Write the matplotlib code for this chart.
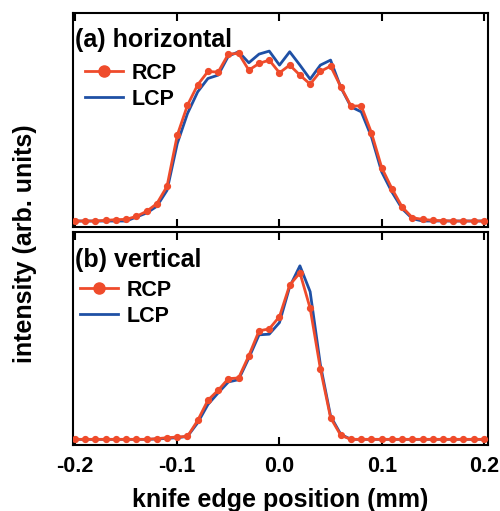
import numpy as np
import matplotlib
matplotlib.use("Agg")
import matplotlib.pyplot as plt
from matplotlib.lines import Line2D

plt.rcParams['font.family'] = ['Liberation Sans', 'DejaVu Sans']
plt.rcParams['font.weight'] = 'bold'

# knife edge positions (mm)
x = np.round(np.arange(-0.20, 0.2001, 0.01), 2)

# (a) horizontal
rcp_h = [0, 0, 0, 0.004, 0.008, 0.010, 0.028, 0.058, 0.104, 0.208, 0.514,
         0.694, 0.816, 0.896, 0.892, 1.000, 1.004, 0.904, 0.944, 0.964, 0.888,
         0.934, 0.874, 0.820, 0.896, 0.928, 0.804, 0.688, 0.690, 0.528, 0.320,
         0.194, 0.084, 0.020, 0.010, 0.004, 0.002, 0, 0, 0, 0]
lcp_h = [0, 0, 0, 0, 0, 0, 0.024, 0.048, 0.088, 0.184, 0.464,
         0.644, 0.774, 0.854, 0.874, 0.988, 1.014, 0.948, 1.000, 1.018, 0.934,
         1.014, 0.934, 0.850, 0.934, 0.964, 0.800, 0.684, 0.654, 0.504, 0.294,
         0.174, 0.074, 0.014, 0, 0, 0, 0, 0, 0, 0]

# (b) vertical
rcp_v = [0, 0, 0, 0, 0, 0, 0, 0, 0.004, 0.010, 0.014,
         0.018, 0.114, 0.236, 0.296, 0.366, 0.370, 0.504, 0.654, 0.666, 0.740,
         0.930, 1.004, 0.790, 0.426, 0.130, 0.024, 0, 0, 0, 0,
         0, 0, 0, 0, 0, 0, 0, 0, 0, 0]
lcp_v = [0, 0, 0, 0, 0, 0, 0, 0, 0.002, 0.006, 0.010,
         0.018, 0.100, 0.210, 0.280, 0.346, 0.360, 0.490, 0.630, 0.634, 0.704,
         0.920, 1.046, 0.890, 0.450, 0.140, 0.030, 0, 0, 0, 0,
         0, 0, 0, 0, 0, 0, 0, 0, 0, 0]

panel_titles = ["(a) horizontal", "(b) vertical"]
xticks = [-0.2, -0.1, 0.0, 0.1, 0.2]
xticklabels = ["-0.2", "-0.1", "0.0", "0.1", "0.2"]

RED = "#EF4B2B"
BLUE = "#1F50A5"

fig = plt.figure(figsize=(5.0, 5.11), dpi=100)
L, R = 72.7 / 500, 488 / 500
axA = fig.add_axes([L, 1 - 226.7 / 511, R - L, (226.7 - 12.7) / 511])
axB = fig.add_axes([L, 1 - 445 / 511, R - L, (445 - 232.3) / 511])

for ax, rc, lc, title, leg_x, leg_y in [(axA, rcp_h, lcp_h, panel_titles[0], 0.030, 0.766),
                                        (axB, rcp_v, lcp_v, panel_titles[1], 0.018, 0.776)]:
    ax.plot(x, lc, color=BLUE, lw=2.0, zorder=2)
    ax.plot(x, rc, color=RED, lw=2.0, marker='o', ms=4.2, zorder=3)
    ax.set_xlim(-0.2023, 0.2040)
    ax.set_ylim(-0.034, 1.248)
    ax.set_yticks([])
    ax.set_xticks(xticks)
    ax.tick_params(axis='x', direction='in', top=True, bottom=True,
                   length=6, width=1.5, labelsize=15.5, pad=8)
    for s in ax.spines.values():
        s.set_linewidth(1.5)
    ax.text(0.006, 0.872, title, transform=ax.transAxes, fontsize=18,
            fontweight='bold', va='center', ha='left')
    handles = [Line2D([], [], color=RED, lw=2.0, marker='o', ms=8),
               Line2D([], [], color=BLUE, lw=2.0)]
    ax.legend(handles, ["RCP", "LCP"], loc='upper left',
              bbox_to_anchor=(leg_x, leg_y), frameon=False,
              handlelength=1.75, handletextpad=0.4, labelspacing=0.22,
              borderpad=0, borderaxespad=0, prop={'weight': 'bold', 'size': 15.5})

axA.set_xticklabels([])
axB.set_xticklabels(xticklabels, fontweight='bold')

fig.text(0.5607, 1 - 500 / 511, "knife edge position (mm)", fontsize=18,
         fontweight='bold', ha='center', va='center')
fig.text(25 / 500, 1 - 244 / 511, "intensity (arb. units)", fontsize=18,
         fontweight='bold', ha='center', va='center', rotation=90)

fig.savefig("out.png", dpi=100)
